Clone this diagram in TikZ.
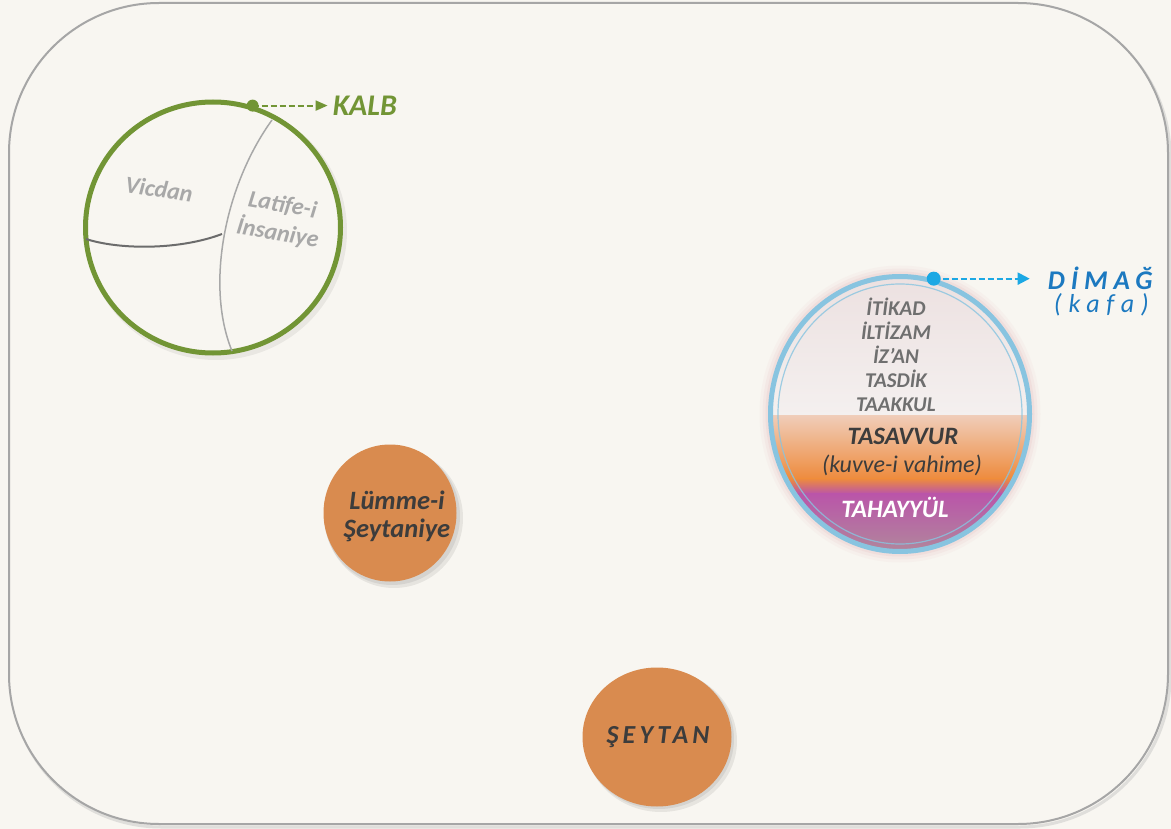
\documentclass[tikz,border=0pt]{standalone}
\usepackage{fontspec}
\setmainfont{Carlito}
\usetikzlibrary{arrows.meta,shapes.geometric}
\definecolor{bg}{HTML}{F8F6F1}
\definecolor{frame}{HTML}{A6A6A6}
\definecolor{kgreen}{HTML}{729535}
\definecolor{dblue}{HTML}{88C4E0}
\definecolor{dcyan}{HTML}{1CA8E4}
\definecolor{dtext}{HTML}{1C79C0}
\definecolor{orng}{HTML}{D98B4F}
\definecolor{txtdark}{HTML}{3C3C3C}
\definecolor{ltgray}{HTML}{A8A8A8}
\definecolor{dkline}{HTML}{6C6C6C}
\definecolor{listgray}{HTML}{6F6F6F}
\definecolor{glow}{HTML}{E3B5B5}
\definecolor{gA}{HTML}{ECE0E0}
\definecolor{gB}{HTML}{F4F0EF}
\definecolor{gC}{HTML}{F0CDB9}
\definecolor{gD}{HTML}{EE8B3D}
\definecolor{gE}{HTML}{BA55A9}
\definecolor{gF}{HTML}{B08A9B}
\tikzset{
  bi/.style={font=\bfseries\itshape},
  orangeball/.style={ellipse, fill=orng, inner sep=0pt},
  labeltxt/.style={bi, inner sep=0pt},
}
\begin{document}
\begin{tikzpicture}[x=1pt,y=-1pt]
\useasboundingbox (0,0) rectangle (1171,829);
\fill[bg] (0,0) rectangle (1171,829);
% frame with shadow
\draw[black!30, line width=3, opacity=0.35, rounded corners=150] (11,6) rectangle (1170,827);
\draw[frame, line width=2, fill=bg, rounded corners=150] (9,3) rectangle (1168,824);

% ---------- KALB ----------
\fill[black, opacity=0.06] (216,231) ellipse [x radius=131, y radius=129];
\node[ellipse, draw=kgreen, line width=5, fill=bg, minimum width=255, minimum height=251, inner sep=0pt] (kalb) at (213,227.5) {};
\draw[ltgray, line width=1.5] (272,120) .. controls (225,185) and (205,285) .. (232,351);
\draw[dkline, line width=2] (86,239) .. controls (120,250) and (180,250) .. (222,234);
\node[labeltxt, text=ltgray, font=\fontsize{24}{26}\bfseries\itshape, rotate=-8] (vicdan) at (159,189) {Vicdan};
\node[labeltxt, text=ltgray, font=\fontsize{24}{29}\bfseries\itshape, rotate=-10, align=center] (latife) at (280,220) {Latife-i\\İnsaniye};
\coordinate (kdot) at (kalb.72);
\fill[kgreen] (kdot) circle (6);
\node[labeltxt, text=kgreen, font=\fontsize{30}{32}\bfseries\itshape, anchor=west] (kalblbl) at ([xshift=80]kdot) {KALB};
\draw[kgreen, line width=2, dash pattern=on 6pt off 3pt, -{Triangle[length=12,width=10]}, shorten >=5] (kdot) -- (kalblbl.west);

% ---------- DIMAG ----------
\foreach \w/\o in {22/0.08,16/0.12,10/0.18}{
  \draw[glow, line width=\w, opacity=\o] (900,414) ellipse [x radius=129.5, y radius=137.5];
}
\begin{scope}
\clip (900,414) ellipse [x radius=128, y radius=136];
\shade[top color=gA, bottom color=gB] (760,270) rectangle (1040,416);
\shade[top color=gC, bottom color=gD] (760,415.5) rectangle (1040,479);
\shade[top color=gD, bottom color=gE] (760,478.5) rectangle (1040,494);
\shade[top color=gE, bottom color=gF] (760,493.5) rectangle (1040,556);
\end{scope}
\draw[dblue, line width=1.2, opacity=0.8] (900,414) ellipse [x radius=122, y radius=130];
\node[ellipse, draw=dblue, line width=5, minimum width=259, minimum height=275, inner sep=0pt] (dimag) at (900,414) {};
\node[labeltxt, text=listgray, font=\fontsize{21}{24}\bfseries\itshape, align=center] (list) at (896,354.5) {İTİKAD\\İLTİZAM\\İZ’AN\\TASDİK\\TAAKKUL};
\node[labeltxt, text=txtdark, font=\fontsize{25}{27}\bfseries\itshape] (tasavvur) at (903,436) {TASAVVUR};
\node[inner sep=0pt, text=txtdark, font=\fontsize{24}{26}\itshape] (kuvve) at (902,465) {(kuvve-i vahime)};
\node[labeltxt, text=white, font=\fontsize{25}{27}\bfseries\itshape] (tahayyul) at (895,507) {TAHAYYÜL};
\coordinate (ddot) at (dimag.76);
\fill[dcyan] (ddot) circle (7);
\node[labeltxt, text=dtext, font=\fontsize{27}{29}\bfseries\itshape\addfontfeature{LetterSpace=22}, anchor=west] (dlbl) at ([xshift=114]ddot) {DİMAĞ};
\node[inner sep=0pt, text=dtext, font=\fontsize{26}{28}\itshape\addfontfeature{LetterSpace=26}, anchor=east] (kafa) at (1149,305) {(kafa)};
\draw[dcyan, line width=2, dash pattern=on 6pt off 3pt, -{Triangle[length=12,width=12]}, shorten >=18] (ddot) -- (dlbl.west);

% ---------- LUMME ----------
\fill[black, opacity=0.07] (394,518) ellipse [x radius=69, y radius=70];
\fill[black, opacity=0.07] (392,516) ellipse [x radius=68, y radius=69];
\node[orangeball, minimum width=133, minimum height=137] (lumme) at (390,513) {};
\node[labeltxt, text=txtdark, font=\fontsize{26.5}{28}\bfseries\itshape, align=center] (lummetxt) at (397,516) {Lümme-i\\Şeytaniye};

% ---------- SEYTAN ----------
\fill[black, opacity=0.07] (661,741) ellipse [x radius=76, y radius=71];
\fill[black, opacity=0.07] (659,739) ellipse [x radius=75, y radius=70];
\node[orangeball, minimum width=149, minimum height=139] (seytan) at (657,737) {};
\node[labeltxt, text=txtdark, font=\fontsize{26}{28}\bfseries\itshape\addfontfeature{LetterSpace=16}] (seytantxt) at (658,737) {ŞEYTAN};
\end{tikzpicture}
\end{document}
